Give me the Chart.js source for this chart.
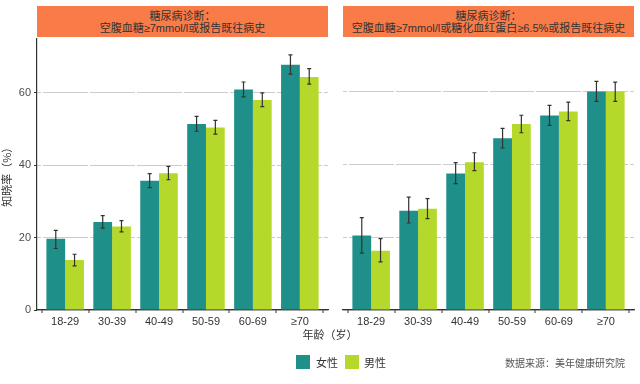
<!DOCTYPE html>
<html><head><meta charset="utf-8">
<script src="https://cdn.jsdelivr.net/npm/chart.js@4"></script>
<style>
html,body{margin:0;padding:0;background:#fff;}
body{width:640px;height:384px;position:relative;overflow:hidden;font-family:"Liberation Sans","Noto Sans CJK SC",sans-serif;}
.strip{position:absolute;top:6px;height:31px;background:#f97b47;color:#333;font-size:11px;line-height:12px;text-align:center;box-sizing:border-box;padding-top:3.5px;white-space:nowrap;font-family:"Liberation Sans","Noto Sans CJK SC",sans-serif;}
#c1{position:absolute;left:0;top:29px;}
#c2{position:absolute;left:335px;top:29px;}
.xt{position:absolute;top:326px;left:300px;width:60px;text-align:center;font-size:11px;color:#333;font-family:"Noto Sans CJK SC",sans-serif;}
.leg{position:absolute;top:355px;font-size:11px;color:#333;font-family:"Noto Sans CJK SC",sans-serif;}
.sq{position:absolute;width:14px;height:14px;top:355px;}
.src{position:absolute;top:355px;left:505px;font-size:10px;color:#555;font-family:"Noto Sans CJK SC",sans-serif;}
</style></head><body>
<div class="strip" style="left:37px;width:291px;">糖尿病诊断：<br>空腹血糖≥7mmol/l或报告既往病史</div>
<div class="strip" style="left:343px;width:291px;">糖尿病诊断：<br>空腹血糖≥7mmol/l或糖化血红蛋白≥6.5%或报告既往病史</div>
<canvas id="c1" width="332" height="308"></canvas>
<canvas id="c2" width="303" height="308"></canvas>
<div class="xt">年龄（岁）</div>
<div class="sq" style="left:296px;background:#1f8f89;"></div>
<div class="leg" style="left:316px;top:354px;">女性</div>
<div class="sq" style="left:345px;background:#b5d92a;"></div>
<div class="leg" style="left:364px;top:354px;">男性</div>
<div class="src">数据来源：美年健康研究院</div>
<script>
const categories = ["18-29","30-39","40-49","50-59","60-69","≥70"];
const yTicks = [0,20,40,60];
// Panel 1
const p1Female = [19.7,24.3,35.7,51.4,60.9,67.8];
const p1FemaleLo = [17.0,22.6,33.8,49.4,58.9,65.2];
const p1FemaleHi = [22.0,26.1,37.7,53.5,63.0,70.5];
const p1Male = [13.8,23.1,37.8,50.4,58.0,64.4];
const p1MaleLo = [12.2,21.6,36.0,48.6,56.2,62.4];
const p1MaleHi = [15.4,24.7,39.7,52.4,60.0,66.7];
// Panel 2
const p2Female = [20.5,27.3,37.5,47.2,53.4,60.0];
const p2FemaleLo = [15.6,23.9,34.7,44.5,50.7,57.3];
const p2FemaleHi = [25.4,31.0,40.5,49.9,56.2,62.8];
const p2Male = [16.3,27.8,40.6,51.1,54.5,60.0];
const p2MaleLo = [13.2,25.1,38.3,48.7,52.0,57.3];
const p2MaleHi = [19.6,30.6,43.2,53.5,57.1,62.6];

const TEAL = "#1f8f89", LIME = "#b5d92a";

const errPlugin = {
  id:'err',
  afterDatasetsDraw(chart){
    const ctx = chart.ctx, y = chart.scales.y;
    chart.data.datasets.forEach((ds,di)=>{
      const meta = chart.getDatasetMeta(di);
      meta.data.forEach((bar,i)=>{
        const x = bar.x, top = y.getPixelForValue(ds.hi[i]), bot = y.getPixelForValue(ds.lo[i]);
        ctx.save();
        ctx.strokeStyle = "#333"; ctx.lineWidth = 1.2;
        ctx.beginPath();
        ctx.moveTo(x,top); ctx.lineTo(x,bot);
        ctx.moveTo(x-2,top); ctx.lineTo(x+2,top);
        ctx.moveTo(x-2,bot); ctx.lineTo(x+2,bot);
        ctx.stroke();
        ctx.restore();
      });
    });
  }
};

function pts(arr){ return arr.map((v,i)=>({x:i+1,y:v})); }

function makeChart(id, fem, femLo, femHi, mal, malLo, malHi, showY){
  return new Chart(document.getElementById(id), {
    type:'bar',
    data:{datasets:[
      {label:'女性', data:pts(fem), lo:femLo, hi:femHi, backgroundColor:TEAL, categoryPercentage:0.8, barPercentage:1.0},
      {label:'男性', data:pts(mal), lo:malLo, hi:malHi, backgroundColor:LIME, categoryPercentage:0.8, barPercentage:1.0}
    ]},
    options:{
      responsive:false, animation:false, devicePixelRatio:1,
      layout:{padding:{left: showY?0:8, right:4, top:8, bottom:0}},
      plugins:{legend:{display:false}, tooltip:{enabled:false}},
      scales:{
        x:{type:'linear', min:0.4, max:6.6, offset:false,
          afterBuildTicks(s){ s.ticks = categories.map((c,i)=>({value:i+1})); },
          afterFit(s){ s.height = 27; },
          ticks:{callback:(v)=>categories[Math.round(v)-1], color:'#333', font:{size:11, family:'"Liberation Sans","Noto Sans CJK SC",sans-serif'}, padding:2, maxRotation:0, autoSkip:false},
          grid:{color:'#ffffff', lineWidth:2, z:-0.5, drawTicks:true, tickColor:'#333', tickLength:3, tickWidth:1},
          border:{display:true, color:'#333', width:1.2}
        },
        y:{min:0, max:75, display:true,
          afterBuildTicks(s){ s.ticks = yTicks.map(v=>({value:v})); },
          afterFit(s){ s.width = showY?37:0; },
          ticks:{display:showY, color:'#4d4d4d', font:{size:11, family:'"Liberation Sans",sans-serif'}, padding:3},
          grid:{color:'#cccccc', lineWidth:1, drawTicks:showY, tickColor:'#333', tickLength:3},
          border:{display:showY, color:'#333', width:1.2},
          title:{display:showY, text:'知晓率（%）', color:'#333', font:{size:11, family:'"Noto Sans CJK SC",sans-serif'}, padding:{top:0,bottom:2}}
        }
      }
    },
    plugins:[errPlugin]
  });
}
makeChart('c1', p1Female,p1FemaleLo,p1FemaleHi,p1Male,p1MaleLo,p1MaleHi,true);
makeChart('c2', p2Female,p2FemaleLo,p2FemaleHi,p2Male,p2MaleLo,p2MaleHi,false);
</script>
</body></html>
